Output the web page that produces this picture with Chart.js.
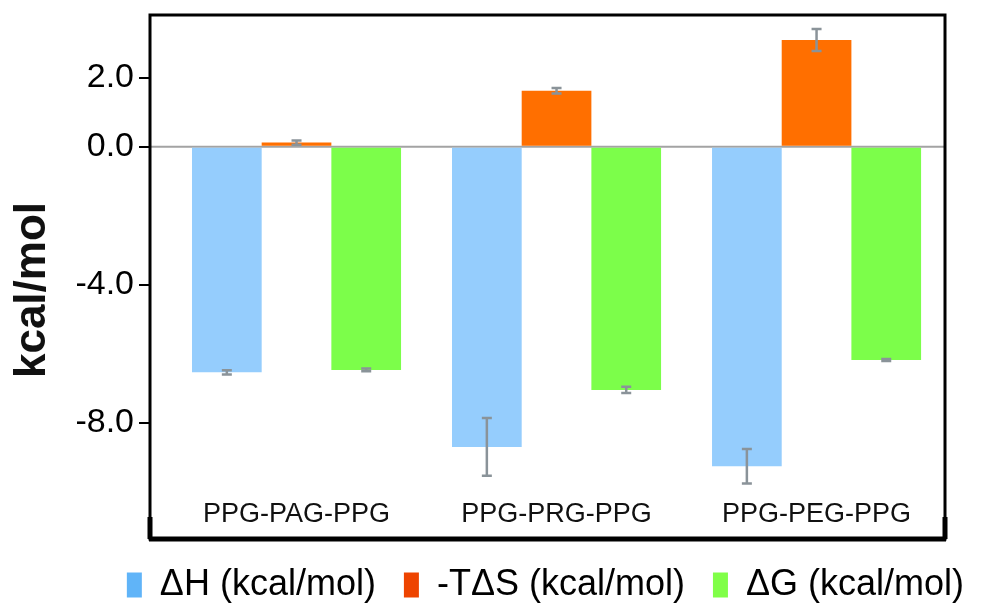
<!DOCTYPE html>
<html>
<head>
<meta charset="utf-8">
<script src="https://cdn.jsdelivr.net/npm/chart.js@4.4.0/dist/chart.umd.min.js"></script>
<style>
  html, body { margin: 0; padding: 0; background: #fff; }
</style>
</head>
<body>
<canvas id="chart" width="992" height="610"></canvas>
<script>
const categories = ['PPG-PAG-PPG', 'PPG-PRG-PPG', 'PPG-PEG-PPG'];
const seriesNames = ['ΔH (kcal/mol)', '-TΔS (kcal/mol)', 'ΔG (kcal/mol)'];
const dH = [-6.54, -8.70, -9.26];
const dHErr = [0.06, 0.84, 0.50];
const tdS = [0.12, 1.62, 3.09];
const tdSErr = [0.06, 0.08, 0.32];
const dG = [-6.47, -7.05, -6.18];
const dGErr = [0.04, 0.09, 0.03];
const yTicks = [2, 0, -4, -8];
const yTitle = 'kcal/mol';

const barColors = ['#95cdfd', '#ff6f00', '#7cfe4a'];
const legendColors = ['#60b4f8', '#ee4400', '#80ff48'];
const FONT = "'Liberation Sans', Arial, sans-serif";

const values = [dH, tdS, dG];
const errors = [dHErr, tdSErr, dGErr];

const data = {
    datasets: values.map((vals, k) => ({
        label: seriesNames[k],
        data: vals.map((v, i) => ({ x: i, y: v })),
        errs: errors[k],
        backgroundColor: barColors[k],
        borderWidth: 0,
        categoryPercentage: 0.804,
        barPercentage: 1.0
    }))
};

// frame, zero line, category labels, axis title, error bars
const decorations = {
    id: 'decorations',
    beforeDatasetsDraw(chart) {
        const { ctx, chartArea: a, scales: { y } } = chart;
        const y0 = y.getPixelForValue(0);
        ctx.save();
        ctx.strokeStyle = '#a3a3a3';
        ctx.lineWidth = 2;
        ctx.beginPath();
        ctx.moveTo(a.left, y0);
        ctx.lineTo(a.right, y0);
        ctx.stroke();
        ctx.restore();
    },
    afterDatasetsDraw(chart) {
        const { ctx, chartArea: a, scales: { x, y } } = chart;
        ctx.save();
        // error bars
        ctx.strokeStyle = '#8a9399';
        ctx.lineWidth = 2.5;
        chart.data.datasets.forEach((ds, k) => {
            const meta = chart.getDatasetMeta(k);
            meta.data.forEach((bar, i) => {
                const v = ds.data[i].y, e = ds.errs[i];
                const yt = y.getPixelForValue(v + e), yb = y.getPixelForValue(v - e);
                ctx.beginPath();
                ctx.moveTo(bar.x, yt); ctx.lineTo(bar.x, yb);
                ctx.moveTo(bar.x - 5, yt); ctx.lineTo(bar.x + 5, yt);
                ctx.moveTo(bar.x - 5, yb); ctx.lineTo(bar.x + 5, yb);
                ctx.stroke();
            });
        });
        // frame
        ctx.strokeStyle = '#000';
        ctx.lineWidth = 3;
        ctx.strokeRect(a.left, a.top, a.right - a.left, a.bottom - a.top);
        ctx.lineWidth = 5;
        ctx.beginPath();
        ctx.moveTo(a.left - 1, a.bottom);
        ctx.lineTo(a.right + 1, a.bottom);
        ctx.moveTo(a.left, a.bottom - 22);
        ctx.lineTo(a.left, a.bottom);
        ctx.moveTo(a.right, a.bottom - 22);
        ctx.lineTo(a.right, a.bottom);
        ctx.stroke();
        // category labels inside the plot
        ctx.fillStyle = '#111';
        ctx.font = '27px ' + FONT;
        ctx.textAlign = 'center';
        ctx.textBaseline = 'middle';
        categories.forEach((c, i) => {
            ctx.fillText(c, x.getPixelForValue(i), a.bottom - 24);
        });
        // y axis title
        ctx.translate(33, 290);
        ctx.rotate(-Math.PI / 2);
        ctx.font = 'bold 44px ' + FONT;
        ctx.fillStyle = '#111';
        ctx.fillText(yTitle, 0, 0);
        ctx.restore();
    }
};

const config = {
    type: 'bar',
    data: data,
    plugins: [decorations],
    options: {
        responsive: false,
        animation: false,
        layout: {
            padding: { left: 0, right: 0, top: 15, bottom: -3 }
        },
        plugins: {
            title: { display: false },
            tooltip: { enabled: false },
            legend: {
                position: 'bottom',
                align: 'end',
                labels: {
                    color: '#111',
                    font: { family: FONT, size: 36 },
                    boxWidth: 15,
                    boxHeight: 25,
                    padding: 28,
                    generateLabels(chart) {
                        return chart.data.datasets.map((ds, k) => ({
                            text: ds.label,
                            fillStyle: legendColors[k],
                            strokeStyle: legendColors[k],
                            lineWidth: 0,
                            datasetIndex: k
                        }));
                    }
                }
            }
        },
        scales: {
            x: {
                type: 'linear',
                min: -0.5635,
                max: 2.494,
                offset: false,
                display: false,
                afterBuildTicks: s => { s.ticks = categories.map((c, i) => ({ value: i })); }
            },
            y: {
                min: -11.37,
                max: 3.817,
                afterFit: s => { s.width = 150; s.paddingTop = 0; s.paddingBottom = 0; },
                afterBuildTicks: s => { s.ticks = yTicks.map(v => ({ value: v })); },
                border: { display: false },
                grid: {
                    drawOnChartArea: false,
                    drawTicks: true,
                    tickLength: 11,
                    color: '#000',
                    lineWidth: 2
                },
                ticks: {
                    color: '#000',
                    padding: 5,
                    font: { family: FONT, size: 34 },
                    callback: v => v.toFixed(1)
                }
            },
            yRight: {
                position: 'right',
                display: true,
                afterFit: s => { s.width = 47; s.paddingTop = 0; s.paddingBottom = 0; },
                ticks: { display: false },
                grid: { display: false },
                border: { display: false }
            }
        }
    }
};

var chart = new Chart(document.getElementById('chart'), config);
</script>
</body>
</html>
